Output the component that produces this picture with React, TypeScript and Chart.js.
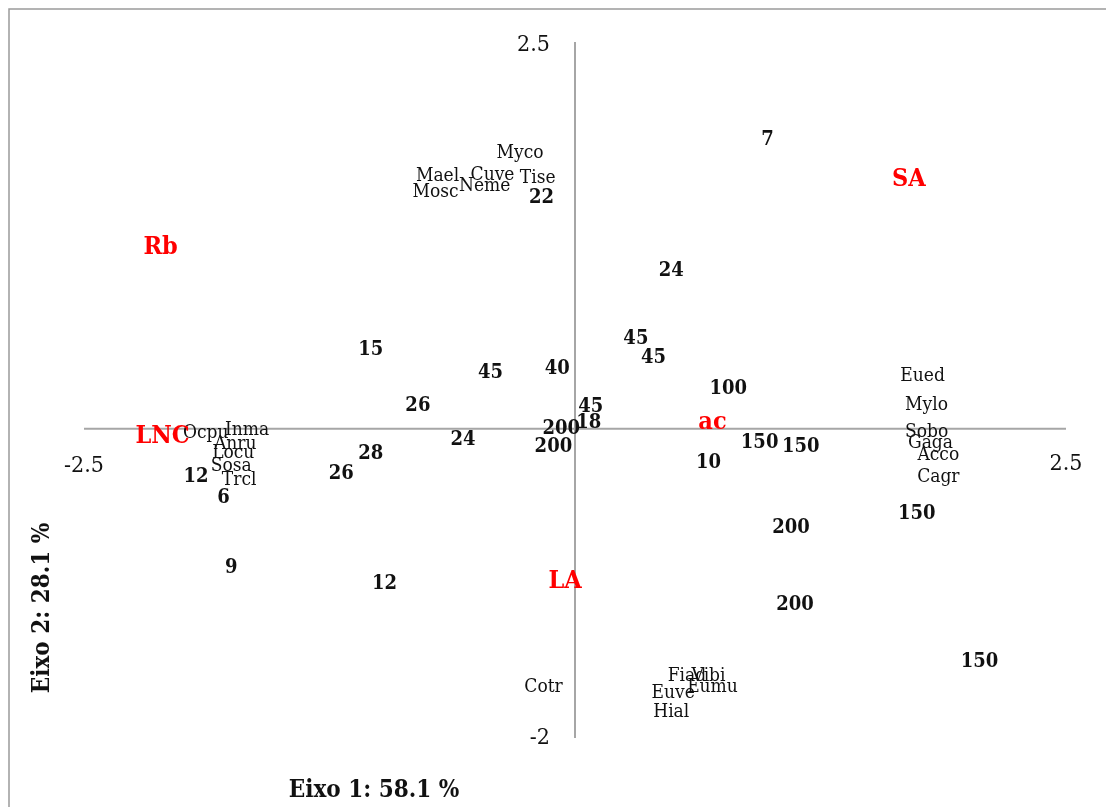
import React, { useEffect, useRef } from "react";
import { Chart, registerables } from "chart.js";

Chart.register(...registerables);

// Species scores (plain labels)
const speciesNames = [
  "Myco", "Mael", "Cuve", "Tise", "Mosc", "Neme",
  "Eued", "Mylo", "Sobo", "Gaga", "Acco", "Cagr",
  "Ocpu", "Inma", "Anru", "Locu", "Sosa", "Trcl",
  "Cotr", "Fiad", "Vibi", "Eumu", "Euve", "Hial",
];
const speciesX = [
  -0.28, -0.70, -0.42, -0.19, -0.71, -0.46,
  1.77, 1.79, 1.79, 1.81, 1.85, 1.85,
  -1.88, -1.67, -1.73, -1.74, -1.75, -1.71,
  -0.16, 0.57, 0.68, 0.70, 0.50, 0.49,
];
const speciesY = [
  1.78, 1.63, 1.64, 1.62, 1.53, 1.57,
  0.34, 0.15, -0.02, -0.09, -0.17, -0.31,
  -0.03, -0.01, -0.10, -0.16, -0.24, -0.33,
  -1.67, -1.60, -1.60, -1.67, -1.71, -1.83,
];

// Site scores (bold numeric labels)
const siteNames = [
  "7", "22", "24", "15", "45", "45", "45", "40", "100", "26",
  "45", "18", "200", "200", "24", "28", "26", "12", "6", "9",
  "12", "150", "150", "10", "150", "200", "200", "150",
];
const siteX = [
  0.98, -0.17, 0.49, -1.04, 0.31, 0.40, -0.43, -0.09, 0.78, -0.80,
  0.08, 0.07, -0.07, -0.11, -0.57, -1.04, -1.19, -1.93, -1.79, -1.75,
  -0.97, 0.94, 1.15, 0.68, 1.74, 1.10, 1.12, 2.06,
];
const siteY = [
  1.87, 1.49, 1.02, 0.51, 0.58, 0.46, 0.36, 0.39, 0.26, 0.15,
  0.14, 0.04, 0.00, -0.12, -0.07, -0.16, -0.29, -0.31, -0.45, -0.90,
  -1.00, -0.09, -0.12, -0.22, -0.55, -0.64, -1.14, -1.51,
];

// Environmental variables (red labels)
const variableNames = ["Rb", "SA", "LNC", "ac", "LA"];
const variableX = [-2.11, 1.70, -2.10, 0.70, -0.05];
const variableY = [1.17, 1.61, -0.05, 0.04, -0.99];

// Axis extents and titles
const xMin = -2.5;
const xMax = 2.5;
const yMin = -2;
const yMax = 2.5;
const xTickLabels = ["-2.5", "2.5"];
const yTickLabels = ["2.5", "-2"];
const xTitle = "Eixo 1: 58.1 %";
const yTitle = "Eixo 2: 28.1 %";

const SERIF = "'DejaVu Serif Condensed', 'DejaVu Serif', serif";

const toPoints = (xs: number[], ys: number[]) => xs.map((x, i) => ({ x, y: ys[i] }));

const labelStyles = [
  { names: speciesNames, font: `19px ${SERIF}`, color: "#111111" },
  { names: siteNames, font: `bold 20px ${SERIF}`, color: "#111111" },
  { names: variableNames, font: `bold 25px ${SERIF}`, color: "#ff0000" },
];

const biplotPlugin = {
  id: "biplot",
  beforeDatasetsDraw(chart: any) {
    const ctx = chart.ctx;
    const xs = chart.scales.x;
    const ys = chart.scales.y;
    const x0 = xs.getPixelForValue(0);
    const y0 = ys.getPixelForValue(0);
    ctx.save();
    // outer frame
    ctx.strokeStyle = "#9a9a9a";
    ctx.lineWidth = 1.5;
    ctx.strokeRect(9, 9, 2000, 2000);
    // axes through the origin
    ctx.strokeStyle = "#a6a6a6";
    ctx.lineWidth = 2;
    ctx.beginPath();
    ctx.moveTo(xs.getPixelForValue(xMin), y0);
    ctx.lineTo(xs.getPixelForValue(xMax), y0);
    ctx.moveTo(x0, ys.getPixelForValue(yMax));
    ctx.lineTo(x0, ys.getPixelForValue(yMin));
    ctx.stroke();
    // end tick labels
    ctx.fillStyle = "#111111";
    ctx.font = `23px ${SERIF}`;
    ctx.textBaseline = "middle";
    ctx.textAlign = "center";
    ctx.fillText(xTickLabels[0], xs.getPixelForValue(xMin), y0 + 37);
    ctx.fillText(xTickLabels[1], xs.getPixelForValue(xMax), y0 + 35);
    ctx.textAlign = "right";
    ctx.fillText(yTickLabels[0], x0 - 25, ys.getPixelForValue(yMax) + 3);
    ctx.fillText(yTickLabels[1], x0 - 25, ys.getPixelForValue(yMin));
    // axis titles
    ctx.font = `bold 24px ${SERIF}`;
    ctx.textAlign = "center";
    ctx.fillText(xTitle, 374, 791);
    ctx.translate(43, 608);
    ctx.rotate(-Math.PI / 2);
    ctx.fillText(yTitle, 0, 0);
    ctx.restore();
  },
  afterDatasetsDraw(chart: any) {
    const ctx = chart.ctx;
    ctx.save();
    ctx.textAlign = "center";
    ctx.textBaseline = "middle";
    labelStyles.forEach((style, di) => {
      const meta = chart.getDatasetMeta(di);
      ctx.font = style.font;
      ctx.fillStyle = style.color;
      meta.data.forEach((el: any, i: number) => {
        ctx.fillText(style.names[i], el.x, el.y);
      });
    });
    ctx.restore();
  },
};

export default function App() {
  const canvasRef = useRef<HTMLCanvasElement | null>(null);

  useEffect(() => {
    if (!canvasRef.current) return;
    const chart = new Chart(canvasRef.current, {
      type: "scatter",
      data: {
        datasets: [
          { label: "Espécies", data: toPoints(speciesX, speciesY), pointRadius: 0 },
          { label: "Parcelas", data: toPoints(siteX, siteY), pointRadius: 0 },
          { label: "Variáveis", data: toPoints(variableX, variableY), pointRadius: 0 },
        ],
      },
      options: {
        animation: false,
        responsive: true,
        maintainAspectRatio: false,
        layout: { padding: { left: 84, right: 40, top: 42, bottom: 69 } },
        plugins: { legend: { display: false }, tooltip: { enabled: false } },
        scales: {
          x: { type: "linear", min: xMin, max: xMax, display: false },
          y: { type: "linear", min: yMin, max: yMax, display: false },
        },
      },
      plugins: [biplotPlugin],
    });
    return () => chart.destroy();
  }, []);

  return (
    <div style={{ position: "fixed", left: 0, top: 0, width: 1106, height: 807, background: "#fff" }}>
      <canvas ref={canvasRef} />
    </div>
  );
}
